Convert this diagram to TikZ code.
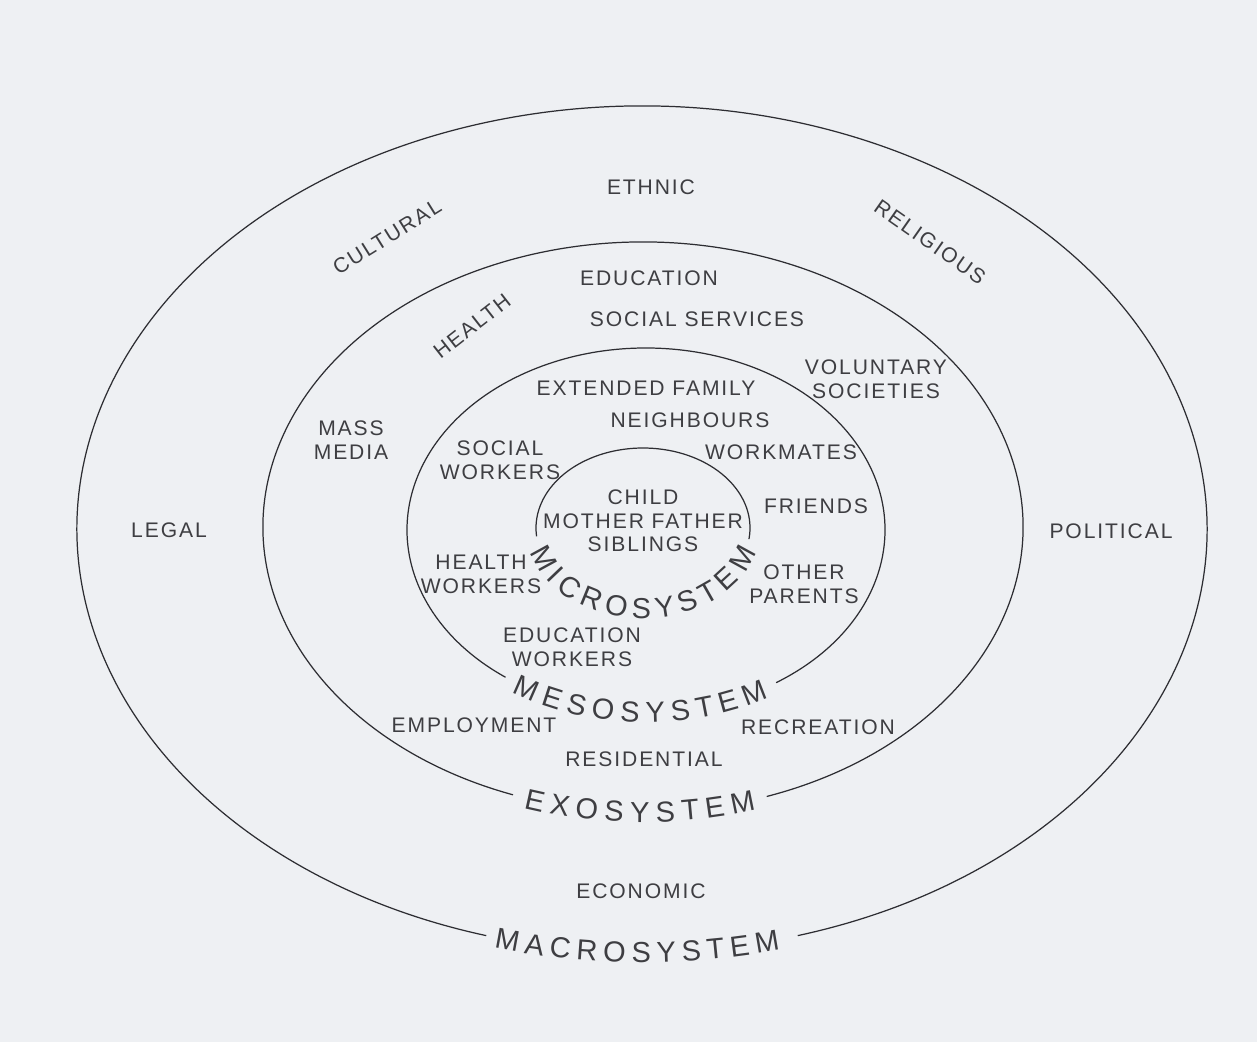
\documentclass[tikz,border=0pt]{standalone}
\usepackage{fontspec}
\usepackage{tikz}
\usetikzlibrary{decorations.text}
\newfontfamily\lblfamily[LetterSpace=9]{Liberation Sans}
\newfontfamily\arcfamily{Liberation Sans}
\newcommand{\lblfont}{\lblfamily\fontsize{12}{13.5}\selectfont}
\newcommand{\arcfont}{\arcfamily\fontsize{16.5}{19}\selectfont}
\definecolor{cpaper}{RGB}{238,240,243}
\definecolor{cink}{RGB}{62,62,66}
\definecolor{cline}{RGB}{45,45,50}

\begin{document}
\begin{tikzpicture}[x=0.02cm, y=0.02cm,
  ring/.style={draw=cline, line width=0.7pt},
  lbl/.style={font=\lblfont, text=cink, align=center, inner sep=1pt},
  arclbl/.style={decorate, decoration={text along path,
    text color=cink, text align={fit to path}, raise=-5.9pt}}]
\fill[cpaper] (-643,-515) rectangle (614,527);
\useasboundingbox (-643,-515) rectangle (614,527);
% rings, each broken at the bottom for its name
\draw[ring] (-1,-2) ++(286:565 and 423)
  arc[start angle=286, end angle=614, x radius=565, y radius=423];
\draw[ring] (0,0) ++(289:380 and 285)
  arc[start angle=289, end angle=610, x radius=380, y radius=285];
\draw[ring] (3,-3) ++(303:239 and 182)
  arc[start angle=303, end angle=594, x radius=239, y radius=182];
\draw[ring] (0,-1) ++(352:107 and 80)
  arc[start angle=352, end angle=546, x radius=107, y radius=80];
% ring names
\path[arclbl, decoration={text={|\arcfont|MACROSYSTEM}}] (-1,-2) ++(255:565 and 423)
  arc[start angle=255, end angle=284, x radius=565, y radius=423];
\path[arclbl, decoration={text={|\arcfont|EXOSYSTEM}}] (0,0) ++(252:380 and 285)
  arc[start angle=252, end angle=287, x radius=380, y radius=285];
\path[arclbl, decoration={text={|\arcfont|MESOSYSTEM}}] (3,-3) ++(237:239 and 182)
  arc[start angle=237, end angle=300, x radius=239, y radius=182];
\path[arclbl, decoration={text={|\arcfont|MICROSYSTEM}}] (0,-1) ++(194:107 and 80)
  arc[start angle=194, end angle=346, x radius=107, y radius=80];
% macrosystem
\node[lbl] (ethnic) at (8,340) {ETHNIC};
\node[lbl, rotate=32] (cultural) at (-256,290) {CULTURAL};
\node[lbl, rotate=-35] (religious) at (287,285) {RELIGIOUS};
\node[lbl] (legal) at (-474,-3) {LEGAL};
\node[lbl] (political) at (468,-4) {POLITICAL};
\node[lbl] (economic) at (-2,-364) {ECONOMIC};
% exosystem
\node[lbl] (education) at (6,249) {EDUCATION};
\node[lbl, rotate=38] (health) at (-171,201) {HEALTH};
\node[lbl] (socserv) at (54,208) {SOCIAL SERVICES};
\node[lbl] (voluntary) at (233,148) {VOLUNTARY\\SOCIETIES};
\node[lbl] (massmedia) at (-292,87) {MASS\\MEDIA};
\node[lbl] (employment) at (-169,-198) {EMPLOYMENT};
\node[lbl] (recreation) at (175,-200) {RECREATION};
\node[lbl] (residential) at (1,-232) {RESIDENTIAL};
% mesosystem
\node[lbl] (extfamily) at (3,139) {EXTENDED FAMILY};
\node[lbl] (neighbours) at (47,107) {NEIGHBOURS};
\node[lbl] (socworkers) at (-143,67) {SOCIAL\\WORKERS};
\node[lbl] (workmates) at (138,75) {WORKMATES};
\node[lbl] (friends) at (173,21) {FRIENDS};
\node[lbl] (hworkers) at (-162,-47) {HEALTH\\WORKERS};
\node[lbl] (oparents) at (161,-57) {OTHER\\PARENTS};
\node[lbl] (eworkers) at (-71,-120) {EDUCATION\\WORKERS};
% microsystem
\node[lbl] (family) at (0,6) {CHILD\\MOTHER FATHER\\SIBLINGS};
\end{tikzpicture}
\end{document}
